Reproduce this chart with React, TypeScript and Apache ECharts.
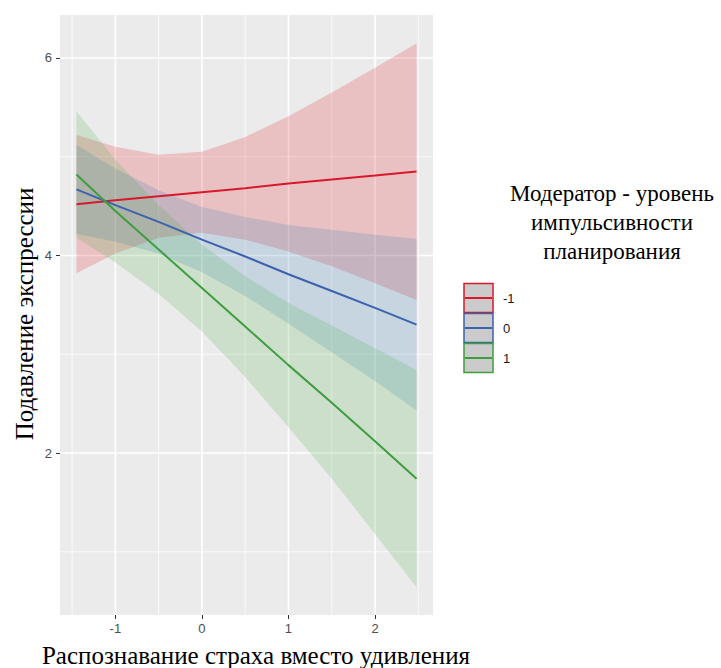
import React, { useEffect, useRef } from 'react';
import * as echarts from 'echarts';

// x positions where the curves were read
const xs = [-1.45, -1, -0.5, 0, 0.5, 1, 1.5, 2, 2.48];

// moderator levels
const levels = ['-1', '0', '1'];

// fitted lines
const lineM1 = [4.52, 4.56, 4.6, 4.64, 4.68, 4.73, 4.77, 4.81, 4.85];
const line0 = [4.67, 4.51, 4.34, 4.16, 3.99, 3.81, 3.64, 3.47, 3.3];
const lineP1 = [4.82, 4.45, 4.06, 3.67, 3.28, 2.89, 2.51, 2.12, 1.74];

// confidence bands
const upperM1 = [5.22, 5.1, 5.02, 5.05, 5.2, 5.41, 5.65, 5.9, 6.15];
const lowerM1 = [3.82, 4.02, 4.18, 4.23, 4.16, 4.04, 3.89, 3.72, 3.55];
const upper0 = [5.12, 4.88, 4.66, 4.49, 4.39, 4.31, 4.26, 4.21, 4.17];
const lower0 = [4.22, 4.14, 4.02, 3.83, 3.59, 3.31, 3.02, 2.73, 2.43];
const upperP1 = [5.46, 4.97, 4.51, 4.11, 3.79, 3.52, 3.29, 3.06, 2.84];
const lowerP1 = [4.18, 3.93, 3.61, 3.23, 2.77, 2.26, 1.74, 1.18, 0.64];

// axis ticks
const xTicks = [-1, 0, 1, 2];
const xMinor = [-1.5, -0.5, 0.5, 1.5, 2.5];
const yTicks = [2, 4, 6];
const yMinor = [1, 3, 5];

const xTitle = 'Распознавание страха вместо удивления';
const yTitle = 'Подавление экспрессии';
const legendTitle = ['Модератор - уровень', 'импульсивности', 'планирования'];

const lineColors = ['#D8182C', '#3A62AD', '#3E9E3E'];
const bandColors = ['rgba(228,26,28,0.2)', 'rgba(55,126,184,0.2)', 'rgba(77,175,74,0.2)'];

export default function App() {
  const ref = useRef<HTMLDivElement>(null);
  useEffect(() => {
    const chart = echarts.init(ref.current!, null, { renderer: 'svg' });

    const bandSeries = (name: string, upper: number[], lower: number[], fill: string) => ({
      type: 'custom',
      name,
      z: 2,
      silent: true,
      clip: true,
      data: [[0, 4]],
      renderItem: (_params: any, api: any) => {
        const pts: number[][] = [];
        xs.forEach((x, i) => pts.push(api.coord([x, upper[i]])));
        for (let i = xs.length - 1; i >= 0; i--) pts.push(api.coord([xs[i], lower[i]]));
        return { type: 'polygon', shape: { points: pts }, style: { fill, stroke: 'none' } };
      },
    });

    // grid lines: one custom series, kind 0 = vertical, 1 = horizontal
    const gridItems = [
      ...xMinor.map((v) => [v, 3, 0, 0]),
      ...yMinor.map((v) => [0, v, 1, 0]),
      ...xTicks.map((v) => [v, 3, 0, 1]),
      ...yTicks.map((v) => [0, v, 1, 1]),
    ];
    const gridSeries = {
      type: 'custom',
      z: 1,
      silent: true,
      clip: false,
      data: gridItems,
      dimensions: ['x', 'y', 'kind', 'major'],
      renderItem: (params: any, api: any) => {
        const cs = params.coordSys;
        const p = api.coord([api.value(0), api.value(1)]);
        const vertical = api.value(2) === 0;
        const major = api.value(3) === 1;
        const shape = vertical
          ? { x1: p[0], y1: cs.y, x2: p[0], y2: cs.y + cs.height }
          : { x1: cs.x, y1: p[1], x2: cs.x + cs.width, y2: p[1] };
        return {
          type: 'line',
          shape,
          style: { stroke: '#FFFFFF', lineWidth: major ? 1.6 : 0.8 },
        };
      },
    };

    const lineSeries = (name: string, vals: number[], color: string) => ({
      type: 'line',
      name,
      z: 3,
      silent: true,
      showSymbol: false,
      symbol: 'none',
      data: xs.map((x, i) => [x, vals[i]]),
      lineStyle: { color, width: 2 },
    });

    const keyTop = [283, 313, 343];
    const graphic: any[] = [
      {
        type: 'text',
        x: 256,
        y: 655,
        style: {
          text: xTitle,
          font: '25px "Liberation Serif"',
          fill: '#000',
          textAlign: 'center',
          textVerticalAlign: 'middle',
        },
      },
      {
        type: 'text',
        x: 24,
        y: 314,
        rotation: Math.PI / 2,
        style: {
          text: yTitle,
          font: '25px "Liberation Serif"',
          fill: '#000',
          textAlign: 'center',
          textVerticalAlign: 'middle',
        },
      },
      ...legendTitle.map((t, i) => ({
        type: 'text',
        x: 612,
        y: 193 + i * 29,
        style: {
          text: t,
          font: '23px "Liberation Serif"',
          fill: '#000',
          textAlign: 'center',
          textVerticalAlign: 'middle',
        },
      })),
    ];
    levels.forEach((lv, i) => {
      graphic.push({
        type: 'rect',
        shape: { x: 464, y: keyTop[i] + 0.5, width: 29, height: 29 },
        style: { fill: '#CBCBCB', stroke: lineColors[i], lineWidth: 1.5 },
      });
      graphic.push({
        type: 'line',
        shape: { x1: 465, y1: keyTop[i] + 15, x2: 492, y2: keyTop[i] + 15 },
        style: { stroke: lineColors[i], lineWidth: 2 },
      });
      graphic.push({
        type: 'text',
        x: 503,
        y: keyTop[i] + 15,
        style: {
          text: lv,
          font: '13px "Liberation Sans"',
          fill: '#1a1a1a',
          textAlign: 'left',
          textVerticalAlign: 'middle',
        },
      });
    });

    const option: any = {
      animation: false,
      backgroundColor: '#FFFFFF',
      grid: {
        left: 60,
        right: 288,
        top: 15,
        bottom: 53,
        show: true,
        backgroundColor: '#EBEBEB',
        borderWidth: 0,
      },
      xAxis: {
        type: 'value',
        min: -1.64,
        max: 2.67,
        position: 'bottom',
        axisLine: { show: false, onZero: false },
        splitLine: { show: false },
        axisTick: { show: true, length: 4, customValues: xTicks, lineStyle: { color: '#333333', width: 1 } },
        axisLabel: {
          customValues: xTicks,
          margin: 7,
          color: '#4D4D4D',
          fontSize: 13,
          fontFamily: 'Liberation Sans',
          formatter: (v: number) => String(v),
        },
      },
      yAxis: {
        type: 'value',
        min: 0.36,
        max: 6.435,
        position: 'left',
        axisLine: { show: false, onZero: false },
        splitLine: { show: false },
        axisTick: { show: true, length: 4, customValues: yTicks, lineStyle: { color: '#333333', width: 1 } },
        axisLabel: {
          customValues: yTicks,
          margin: 8,
          color: '#4D4D4D',
          fontSize: 13,
          fontFamily: 'Liberation Sans',
          formatter: (v: number) => String(v),
        },
      },
      graphic,
      series: [
        gridSeries,
        bandSeries('band -1', upperM1, lowerM1, bandColors[0]),
        bandSeries('band 0', upper0, lower0, bandColors[1]),
        bandSeries('band 1', upperP1, lowerP1, bandColors[2]),
        lineSeries('-1', lineM1, lineColors[0]),
        lineSeries('0', line0, lineColors[1]),
        lineSeries('1', lineP1, lineColors[2]),
      ],
    };
    chart.setOption(option);
    return () => chart.dispose();
  }, []);
  return (
    <div
      ref={ref}
      style={{ position: 'absolute', left: 0, top: 0, width: 721, height: 668, background: '#fff' }}
    />
  );
}
